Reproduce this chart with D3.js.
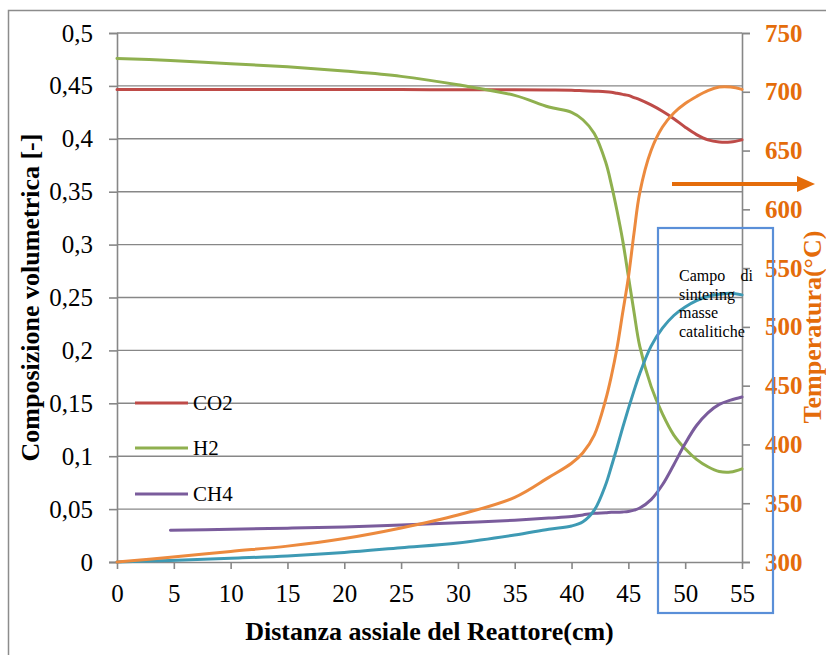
<!DOCTYPE html>
<html><head><meta charset="utf-8">
<script src="https://cdn.jsdelivr.net/npm/d3@7"></script>
<style>html,body{margin:0;padding:0;background:#fff;} svg{display:block;}</style>
</head><body>
<svg id="chart" width="826" height="655"></svg>
<script>
// ---- data ----
const dist = [0, 4.7, 10, 15, 20, 25, 30, 35, 38, 40, 41, 42, 43, 43.5, 44, 44.5, 45, 45.5, 46, 47, 48, 49, 50, 51, 52, 53, 54, 55];
const co2  = [0.4465,0.4465,0.4465,0.4465,0.4465,0.4465,0.4464,0.4463,0.4462,0.446,0.4455,0.445,0.4445,0.444,0.443,0.442,0.441,0.439,0.437,0.432,0.426,0.419,0.411,0.404,0.399,0.397,0.397,0.399];
const h2   = [0.476,0.474,0.471,0.468,0.464,0.459,0.451,0.441,0.430,0.425,0.418,0.405,0.378,0.357,0.332,0.304,0.270,0.236,0.204,0.166,0.140,0.120,0.107,0.097,0.090,0.0855,0.085,0.088];
const ch4  = [null,0.030,0.031,0.032,0.033,0.035,0.037,0.0395,0.0415,0.043,0.0445,0.046,0.0465,0.047,0.047,0.0473,0.0478,0.049,0.051,0.059,0.073,0.092,0.112,0.129,0.141,0.149,0.153,0.156];
const co   = [0,0.0015,0.0035,0.0057,0.009,0.0135,0.018,0.0255,0.031,0.034,0.038,0.049,0.073,0.090,0.108,0.127,0.145,0.162,0.178,0.204,0.221,0.233,0.241,0.247,0.251,0.253,0.254,0.2525];
const temp = [300,304,309,313.5,320,329,340,355,372,384,393,408,438,458,482,512,542,580,614,650,670,682,690,696,701,704,704,702];
const xTicks = [0,5,10,15,20,25,30,35,40,45,50,55];
const yTicks = [0,0.05,0.1,0.15,0.2,0.25,0.3,0.35,0.4,0.45,0.5];
const y2Ticks = [300,350,400,450,500,550,600,650,700,750];
const legendNames = ["CO2","H2","CH4"];
const boxLines = ["Campo", "sintering", "masse", "catalitiche"];

// ---- layout ----
const svg = d3.select("#chart");
const L = 117, R = 742, T = 33, B = 562;
const x = d3.scaleLinear().domain([0,55]).range([L,R]);
const y = d3.scaleLinear().domain([0,0.5]).range([B,T]);
const y2 = d3.scaleLinear().domain([300,750]).range([B,T]);
const fmt = d => String(d).replace(".", ",");
const serif = "'Liberation Serif','Times New Roman',serif";
const gray = "#878787";
const orangeTxt = "#E46C0A";

// outer frame
svg.append("rect").attr("x",8.5).attr("y",10.5).attr("width",900).attr("height",700)
  .attr("fill","none").attr("stroke","#8c8c8c").attr("stroke-width",1.5);

// gridlines
svg.append("g").selectAll("line").data(yTicks.filter(d=>d>0)).join("line")
  .attr("x1",L).attr("x2",R).attr("y1",d=>y(d)).attr("y2",d=>y(d))
  .attr("stroke",gray).attr("stroke-width",1.4);

// left axis
const gL = svg.append("g").attr("transform",`translate(${L},0)`)
  .call(d3.axisLeft(y).tickValues(yTicks).tickFormat(fmt).tickSize(8).tickPadding(16));
// bottom axis
const gB = svg.append("g").attr("transform",`translate(0,${B})`)
  .call(d3.axisBottom(x).tickValues(xTicks).tickFormat(d=>d).tickSize(7).tickPadding(15));
// right axis
const gR = svg.append("g").attr("transform",`translate(${R},0)`)
  .call(d3.axisRight(y2).tickValues(y2Ticks).tickFormat(d=>d).tickSize(8).tickPadding(15));

[gL,gB,gR].forEach(g=>{
  g.attr("font-family",serif).attr("font-size",25);
  g.selectAll(".domain").attr("stroke",gray).attr("stroke-width",1.6);
  g.selectAll(".tick line").attr("stroke",gray).attr("stroke-width",1.6);
  g.selectAll("text").attr("font-family",serif).attr("font-size",25).attr("fill","#000");
});
gB.select(".domain").attr("d",`M${L-8},0.5H${R}`);
gR.selectAll("text").attr("fill",orangeTxt).attr("font-weight","bold");

// series
const series = [
  {name:"CO2", v:co2,  c:"#BE4B48", s:y},
  {name:"H2",  v:h2,   c:"#8FB04F", s:y},
  {name:"CH4", v:ch4,  c:"#7A5C9C", s:y},
  {name:"CO",  v:co,   c:"#3E9AB4", s:y},
  {name:"T",   v:temp, c:"#EC8A3E", s:y2}
];
series.forEach(sr=>{
  const line = d3.line().defined(d=>d[1]!=null)
    .x(d=>x(d[0])).y(d=>sr.s(d[1])).curve(d3.curveCatmullRom.alpha(0.5));
  svg.append("path").datum(dist.map((d,i)=>[d, sr.v[i]]))
    .attr("d",line).attr("fill","none").attr("stroke",sr.c)
    .attr("stroke-width",3).attr("stroke-linejoin","round").attr("stroke-linecap","round");
});

// legend
const legY = [403, 448, 494];
legendNames.forEach((n,i)=>{
  svg.append("line").attr("x1",135).attr("x2",188).attr("y1",legY[i]).attr("y2",legY[i])
    .attr("stroke",series[i].c).attr("stroke-width",3);
  svg.append("text").attr("x",193).attr("y",legY[i]+7).attr("font-family",serif)
    .attr("font-size",21).attr("fill","#000").text(n);
});

// axis titles
svg.append("text").attr("transform",`translate(39,${(T+B)/2}) rotate(-90)`)
  .attr("text-anchor","middle").attr("font-family",serif).attr("font-size",26)
  .attr("font-weight","bold").attr("fill","#000").text("Composizione volumetrica [-]");
svg.append("text").attr("x",(L+R)/2).attr("y",640)
  .attr("text-anchor","middle").attr("font-family",serif).attr("font-size",26)
  .attr("font-weight","bold").attr("fill","#000").text("Distanza assiale del Reattore(cm)");
svg.append("text").attr("transform",`translate(821,327) rotate(-90)`)
  .attr("text-anchor","middle").attr("font-family",serif).attr("font-size",26)
  .attr("font-weight","bold").attr("fill",orangeTxt).text("Temperatura(°C)");

// annotation box
svg.append("rect").attr("x",658).attr("y",228).attr("width",115).attr("height",385)
  .attr("fill","none").attr("stroke","#5A8FD8").attr("stroke-width",2.2);
const tb = svg.append("g").attr("font-family",serif).attr("font-size",16).attr("fill","#000");
boxLines.forEach((t,i)=>{
  tb.append("text").attr("x",679).attr("y",281+i*18.5).text(t);
});
tb.append("text").attr("x",753).attr("y",281).attr("text-anchor","end").text("di");

// arrow
svg.append("line").attr("x1",672).attr("x2",800).attr("y1",184).attr("y2",184)
  .attr("stroke",orangeTxt).attr("stroke-width",4);
svg.append("path").attr("d","M797,176 L815,184 L797,192 Z").attr("fill",orangeTxt);
</script>
</body></html>
